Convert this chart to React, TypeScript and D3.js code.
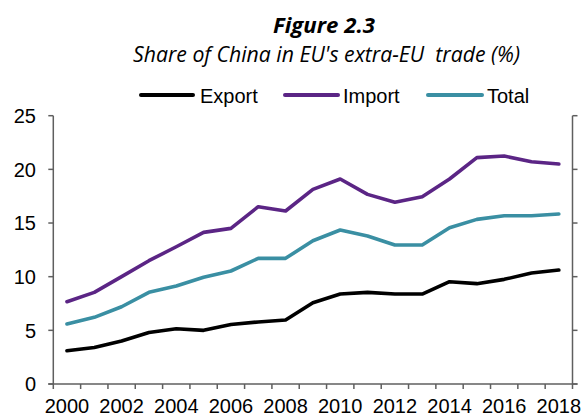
import React from "react";
import * as d3 from "d3";

const years = [2000, 2001, 2002, 2003, 2004, 2005, 2006, 2007, 2008, 2009, 2010, 2011, 2012, 2013, 2014, 2015, 2016, 2017, 2018];
const exportVals = [3.1, 3.4, 4.0, 4.8, 5.15, 5.0, 5.55, 5.78, 5.96, 7.57, 8.38, 8.54, 8.38, 8.38, 9.53, 9.35, 9.75, 10.34, 10.62];
const importVals = [7.67, 8.54, 10.0, 11.49, 12.79, 14.13, 14.5, 16.52, 16.12, 18.14, 19.1, 17.67, 16.93, 17.45, 19.1, 21.09, 21.24, 20.71, 20.5];
const totalVals = [5.59, 6.21, 7.2, 8.54, 9.13, 9.94, 10.53, 11.71, 11.71, 13.35, 14.35, 13.79, 12.95, 12.95, 14.56, 15.34, 15.68, 15.68, 15.84];
const yTicks = [0, 5, 10, 15, 20, 25];
const xLabelYears = [2000, 2002, 2004, 2006, 2008, 2010, 2012, 2014, 2016, 2018];
const seriesNames = ["Export", "Import", "Total"];
const seriesColors = ["#000000", "#5B2585", "#3A8FA3"];

const W = 585;
const H = 417;
const left = 53.3;
const right = 572.5;
const bottom = 384;
const top = 115.7;
const axisColor = "#5f5f5f";
const font = "'Liberation Sans', Arial, sans-serif";

export default function App() {
  const x = d3.scaleBand<number>().domain(years).range([left, right]).padding(0);
  const y = d3.scaleLinear().domain([0, 25]).range([bottom, top]);
  const cx = (yr: number) => (x(yr) as number) + x.bandwidth() / 2;
  const line = d3
    .line<number>()
    .x((_, i) => cx(years[i]))
    .y((v) => y(v));
  const series = [exportVals, importVals, totalVals];
  const boundaries = years.map((yr) => x(yr) as number).concat([right]);

  const legend = [
    { x1: 141, x2: 193, tx: 200 },
    { x1: 285, x2: 338, tx: 343 },
    { x1: 428, x2: 482, tx: 487 },
  ];

  return (
    <svg width={W} height={H} style={{ position: "absolute", left: 0, top: 0, background: "#fff" }}>
      <rect x={0} y={0} width={W} height={H} fill="#fff" />
      <text x={324} y={33} textAnchor="middle" fontFamily="'Open Sans', sans-serif" fontWeight="bold" fontStyle="italic" fontSize={21} fill="#000" textLength={102} lengthAdjust="spacingAndGlyphs">
        Figure 2.3
      </text>
      <text x={133} y={62} fontFamily="'Open Sans', sans-serif" fontStyle="italic" fontSize={21} fill="#000" textLength={387} lengthAdjust="spacingAndGlyphs" style={{ whiteSpace: "pre" }}>
        {"Share of China in EU's extra-EU  trade (%)"}
      </text>

      {seriesNames.map((name, i) => (
        <g key={name}>
          <line x1={legend[i].x1} x2={legend[i].x2} y1={95} y2={95} stroke={seriesColors[i]} strokeWidth={4} strokeLinecap="round" />
          <text x={legend[i].tx} y={102.5} fontFamily={font} fontSize={20} fill="#000">
            {name}
          </text>
        </g>
      ))}

      {/* axes */}
      <line x1={left} x2={left} y1={top} y2={bottom} stroke={axisColor} strokeWidth={1.5} />
      <line x1={right} x2={right} y1={top} y2={bottom} stroke={axisColor} strokeWidth={1.5} />
      <line x1={left - 5} x2={right + 5} y1={bottom} y2={bottom} stroke={axisColor} strokeWidth={1.5} />
      {yTicks.map((t) => (
        <g key={t}>
          <line x1={left - 5} x2={left} y1={y(t)} y2={y(t)} stroke={axisColor} strokeWidth={1.5} />
          <line x1={right} x2={right + 5} y1={y(t)} y2={y(t)} stroke={axisColor} strokeWidth={1.5} />
          <text x={36} y={y(t)} dy="0.36em" textAnchor="end" fontFamily={font} fontSize={20} fill="#000">
            {t}
          </text>
        </g>
      ))}
      {boundaries.map((bx, i) => (
        <line key={i} x1={bx} x2={bx} y1={bottom} y2={bottom + 5} stroke={axisColor} strokeWidth={1.5} />
      ))}
      {xLabelYears.map((yr) => (
        <text key={yr} x={cx(yr)} y={412.5} textAnchor="middle" fontFamily={font} fontSize={20} fill="#000">
          {yr}
        </text>
      ))}

      {series.map((vals, i) => (
        <path key={i} d={line(vals) || ""} fill="none" stroke={seriesColors[i]} strokeWidth={3.6} strokeLinejoin="round" strokeLinecap="round" />
      ))}
    </svg>
  );
}
